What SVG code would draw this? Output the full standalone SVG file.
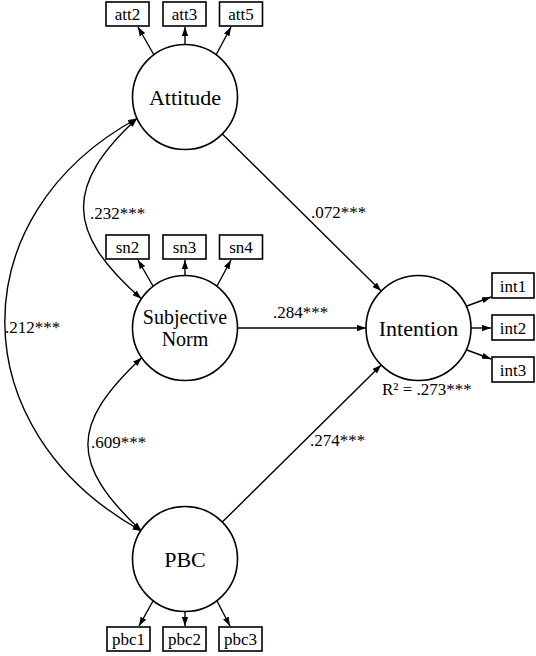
<svg xmlns="http://www.w3.org/2000/svg" width="536" height="656" viewBox="0 0 536 656" font-family="'Liberation Serif', 'Times New Roman', Tinos, 'DejaVu Serif', serif">
<style>
.lat{fill:#fff;stroke:#000;stroke-width:1.6}
.box{fill:#fff;stroke:#000;stroke-width:1.6}
.ln{fill:none;stroke:#000;stroke-width:1.4}
text{font-family:'Liberation Serif','Times New Roman',Tinos,'DejaVu Serif',serif;fill:#000}
.big{font-size:22px;text-anchor:middle}
.mid{font-size:20px;text-anchor:middle}
.sm{font-size:17px;text-anchor:middle}
.coef{font-size:17px}
</style>
<defs>
<marker id="ah" viewBox="0 0 10 7" refX="10" refY="3.5" markerWidth="9" markerHeight="7" markerUnits="userSpaceOnUse" orient="auto-start-reverse">
<path d="M0,0 L10,3.5 L0,7 z" fill="#000"/>
</marker>
</defs>
<rect width="536" height="656" fill="#fff"/>
<g id="connectors">
<path class="ln" d="M154,55 L138,27" marker-end="url(#ah)"/>
<path class="ln" d="M185,44.5 L185,27" marker-end="url(#ah)"/>
<path class="ln" d="M216,55 L231,27" marker-end="url(#ah)"/>
<path class="ln" d="M153,286 L138,260" marker-end="url(#ah)"/>
<path class="ln" d="M185,275.5 L185,260" marker-end="url(#ah)"/>
<path class="ln" d="M217,286 L231,260" marker-end="url(#ah)"/>
<path class="ln" d="M153,601 L139,626" marker-end="url(#ah)"/>
<path class="ln" d="M185,611.5 L185,626" marker-end="url(#ah)"/>
<path class="ln" d="M217,601 L230,626" marker-end="url(#ah)"/>
<path class="ln" d="M467,306 L491,297" marker-end="url(#ah)"/>
<path class="ln" d="M471,328 L491,328" marker-end="url(#ah)"/>
<path class="ln" d="M467,350 L491,359" marker-end="url(#ah)"/>
<path class="ln" d="M222.3,133.9 L381.2,291.1" marker-end="url(#ah)"/>
<path class="ln" d="M237.5,328 L366,328" marker-end="url(#ah)"/>
<path class="ln" d="M222.3,522.1 L381.2,364.9" marker-end="url(#ah)"/>
<path class="ln" d="M137,118.5 C65,185 65,232 141.4,298.7" marker-start="url(#ah)" marker-end="url(#ah)"/>
<path class="ln" d="M141.7,357.7 C70,425 70,464 141.5,531" marker-start="url(#ah)" marker-end="url(#ah)"/>
<path class="ln" d="M137,118.5 C-40,215 -40,430 141.5,531" marker-start="url(#ah)" marker-end="url(#ah)"/>
</g>
<g id="attitude"><circle class="lat" cx="185" cy="97" r="52.5"/><text class="big" x="185" y="104.5">Attitude</text></g>
<g id="subjective-norm"><circle class="lat" cx="185" cy="328" r="52.5"/><text class="mid" x="185" y="324">Subjective</text><text class="mid" x="185" y="346">Norm</text></g>
<g id="intention"><circle class="lat" cx="418.5" cy="328" r="52.5"/><text class="big" x="418.5" y="335.5">Intention</text></g>
<g id="pbc"><circle class="lat" cx="185" cy="559" r="52.5"/><text class="big" x="185" y="566.5">PBC</text></g>
<g id="att2"><rect class="box" x="106" y="2" width="43" height="24"/><text class="sm" x="127.5" y="20">att2</text></g>
<g id="att3"><rect class="box" x="163" y="2" width="43" height="24"/><text class="sm" x="184.5" y="20">att3</text></g>
<g id="att5"><rect class="box" x="219.5" y="2" width="43" height="24"/><text class="sm" x="241" y="20">att5</text></g>
<g id="sn2"><rect class="box" x="106" y="235" width="43" height="24"/><text class="sm" x="127.5" y="253">sn2</text></g>
<g id="sn3"><rect class="box" x="163" y="235" width="43" height="24"/><text class="sm" x="184.5" y="253">sn3</text></g>
<g id="sn4"><rect class="box" x="219.5" y="235" width="43" height="24"/><text class="sm" x="241" y="253">sn4</text></g>
<g id="pbc1"><rect class="box" x="107" y="627" width="43" height="24"/><text class="sm" x="128.5" y="645">pbc1</text></g>
<g id="pbc2"><rect class="box" x="163" y="627" width="43" height="24"/><text class="sm" x="184.5" y="645">pbc2</text></g>
<g id="pbc3"><rect class="box" x="219" y="627" width="43" height="24"/><text class="sm" x="240.5" y="645">pbc3</text></g>
<g id="int1"><rect class="box" x="492" y="273" width="42" height="25"/><text class="sm" x="513" y="291.5">int1</text></g>
<g id="int2"><rect class="box" x="492" y="315" width="42" height="25"/><text class="sm" x="513" y="333.5">int2</text></g>
<g id="int3"><rect class="box" x="492" y="357" width="42" height="25"/><text class="sm" x="513" y="375.5">int3</text></g>
<g id="labels">
<text class="coef" x="311" y="218">.072***</text>
<text class="coef" x="273" y="318">.284***</text>
<text class="coef" x="310" y="446">.274***</text>
<text class="coef" x="90" y="219">.232***</text>
<text class="coef" x="91" y="448">.609***</text>
<text class="coef" x="5" y="333">.212***</text>
<text class="coef" x="382" y="395">R² = .273***</text>
</g>
</svg>
